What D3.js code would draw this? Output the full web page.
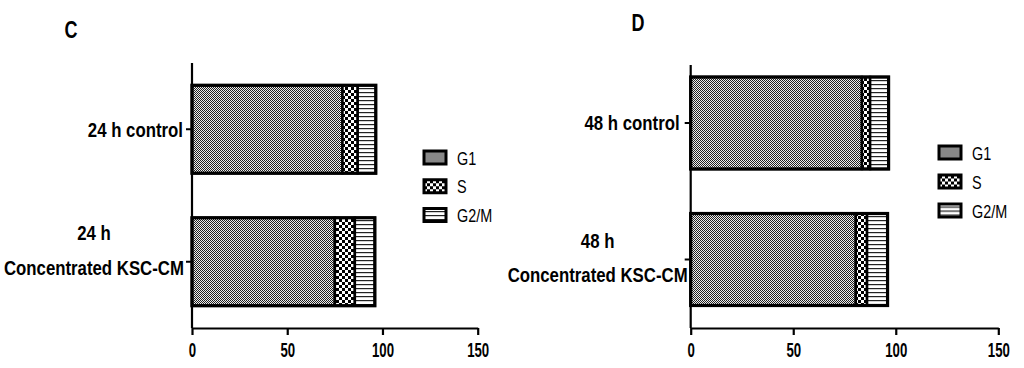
<!DOCTYPE html>
<html>
<head>
<meta charset="utf-8">
<script src="https://cdn.jsdelivr.net/npm/d3@7"></script>
<style>
  body { margin: 0; background: #fff; }
  svg text { font-family: "Liberation Sans", Arial, sans-serif; }
</style>
</head>
<body>
<div id="chart"></div>
<script>
// phases (stack order) and axis ticks
const phases = ["G1", "S", "G2/M"];
const xTicks = [0, 50, 100, 150];

// panel C, 24 h
const groupsC = [["24 h control"], ["24 h", "Concentrated KSC-CM"]];
const g1C = [79, 75];
const sC = [8, 10.5];
const g2mC = [9.5, 10.5];

// panel D, 48 h
const groupsD = [["48 h control"], ["48 h", "Concentrated KSC-CM"]];
const g1D = [83.5, 80.5];
const sD = [4, 5.5];
const g2mD = [9, 10];

const svg = d3.select("#chart").append("svg")
    .attr("width", 1024)
    .attr("height", 368);

// fill patterns
const defs = svg.append("defs");
const pG1 = defs.append("pattern").attr("id", "pat-G1")
    .attr("patternUnits", "userSpaceOnUse").attr("width", 2).attr("height", 2);
pG1.append("rect").attr("width", 2).attr("height", 2).attr("fill", "#eee");
pG1.append("rect").attr("width", 1).attr("height", 1).attr("fill", "#222");
pG1.append("rect").attr("x", 1).attr("y", 1).attr("width", 1).attr("height", 1).attr("fill", "#222");

const pS = defs.append("pattern").attr("id", "pat-S")
    .attr("patternUnits", "userSpaceOnUse").attr("width", 6).attr("height", 6);
pS.append("rect").attr("width", 6).attr("height", 6).attr("fill", "#fff");
pS.append("rect").attr("width", 3).attr("height", 3).attr("fill", "#000");
pS.append("rect").attr("x", 3).attr("y", 3).attr("width", 3).attr("height", 3).attr("fill", "#000");

const pG2 = defs.append("pattern").attr("id", "pat-G2/M")
    .attr("patternUnits", "userSpaceOnUse").attr("width", 4).attr("height", 4);
pG2.append("rect").attr("width", 4).attr("height", 4).attr("fill", "#fff");
pG2.append("rect").attr("width", 4).attr("height", 1.2).attr("fill", "#222");

const patId = p => "url(#pat-" + p + ")";

// the figure uses a condensed face; squeeze Liberation Sans horizontally
const SQ_LABEL = 0.8, SQ_TICK = 0.66, SQ_LEG = 0.76, SQ_LETTER = 0.75;

function drawPanel(cfg) {
    const rows = cfg.groups.map((g, i) => ({
        label: g,
        G1: cfg.g1[i],
        S: cfg.s[i],
        "G2/M": cfg.g2m[i]
    }));
    const stacked = d3.stack().keys(phases)(rows);

    const x = d3.scaleLinear().domain([0, 150]).range(cfg.xRange);
    const y = d3.scaleBand()
        .domain(d3.range(rows.length))
        .range(cfg.yRange)
        .paddingInner(cfg.pad)
        .paddingOuter(cfg.pad / 2);

    const g = svg.append("g");

    // panel letter
    g.append("text")
        .attr("transform", `translate(${cfg.letter[0]},${cfg.letter[1]}) scale(${SQ_LETTER},1)`)
        .attr("text-anchor", "middle")
        .attr("font-weight", "bold")
        .attr("font-size", 24)
        .text(cfg.name);

    // stacked segments
    stacked.forEach(layer => {
        g.append("g").selectAll("rect")
            .data(layer)
            .join("rect")
            .attr("x", d => x(d[0]))
            .attr("y", (d, i) => y(i))
            .attr("width", d => x(d[1]) - x(d[0]))
            .attr("height", y.bandwidth())
            .attr("fill", patId(layer.key))
            .attr("stroke", "#000")
            .attr("stroke-width", 2.5);
    });
    // bar outline
    g.append("g").selectAll("rect")
        .data(rows)
        .join("rect")
        .attr("x", x(0))
        .attr("y", (d, i) => y(i))
        .attr("width", d => x(d.G1 + d.S + d["G2/M"]) - x(0))
        .attr("height", y.bandwidth())
        .attr("fill", "none")
        .attr("stroke", "#000")
        .attr("stroke-width", 3.2);

    // x axis
    const xAxis = g.append("g")
        .attr("transform", `translate(0,${cfg.base})`)
        .call(d3.axisBottom(x).tickValues(xTicks).tickSize(7).tickSizeOuter(0));
    xAxis.select(".domain").attr("stroke-width", 2.2);
    xAxis.selectAll(".tick line").attr("stroke-width", 2.2);
    xAxis.selectAll(".tick text")
        .attr("y", 29.5)
        .attr("dy", null)
        .attr("transform", `scale(${SQ_TICK},1)`)
        .attr("font-size", 20)
        .attr("font-weight", "bold")
        .attr("fill", "#000");

    // y axis spine
    g.append("line")
        .attr("x1", x(0)).attr("x2", x(0))
        .attr("y1", cfg.spineTop).attr("y2", cfg.base)
        .attr("stroke", "#000").attr("stroke-width", 2.2);

    // category ticks and labels
    rows.forEach((d, i) => {
        const cy = y(i) + y.bandwidth() / 2;
        g.append("line")
            .attr("x1", x(0) - 6).attr("x2", x(0))
            .attr("y1", cy).attr("y2", cy)
            .attr("stroke", "#000").attr("stroke-width", 2);
        const t = g.append("text")
            .attr("font-size", 21)
            .attr("font-weight", "bold")
            .attr("text-anchor", "middle");
        const offs = d.label.length === 1 ? [7.5] : cfg.lineOffsets;
        d.label.forEach((line, k) => {
            t.append("tspan")
                .attr("x", 0)
                .attr("y", cy + offs[k])
                .text(line);
        });
        const bb = t.node().getBBox();
        const tx = x(0) - cfg.labelGap[i] - SQ_LABEL * (bb.x + bb.width);
        t.attr("transform", `translate(${tx},0) scale(${SQ_LABEL},1)`);
    });

    // legend
    const lg = g.append("g").selectAll("g")
        .data(phases)
        .join("g")
        .attr("transform", (p, i) => `translate(${cfg.legend[0]},${cfg.legend[1] + i * cfg.legendStep})`);
    lg.append("rect")
        .attr("x", 0).attr("y", -6.5)
        .attr("width", 22).attr("height", 13)
        .attr("fill", p => patId(p))
        .attr("stroke", "#000")
        .attr("stroke-width", 3);
    lg.append("text")
        .attr("transform", `translate(33,7) scale(${SQ_LEG},1)`)
        .attr("font-size", 19)
        .text(p => p);
}

drawPanel({
    name: "C", letter: [71, 38],
    groups: groupsC, g1: g1C, s: sC, g2m: g2mC,
    xRange: [192, 477.7], yRange: [63, 328], pad: 0.336,
    base: 328, spineTop: 63,
    lineOffsets: [-22, 13.5], labelGap: [9, 8],
    legend: [424, 157.5], legendStep: 28.75
});

drawPanel({
    name: "D", letter: [638, 31],
    groups: groupsD, g1: g1D, s: sD, g2m: g2mD,
    xRange: [690.7, 998.3], yRange: [54.75, 327.75], pad: 0.326,
    base: 328, spineTop: 65,
    lineOffsets: [-11, 23], labelGap: [11, 3],
    legend: [939, 152.5], legendStep: 29
});
</script>
</body>
</html>
